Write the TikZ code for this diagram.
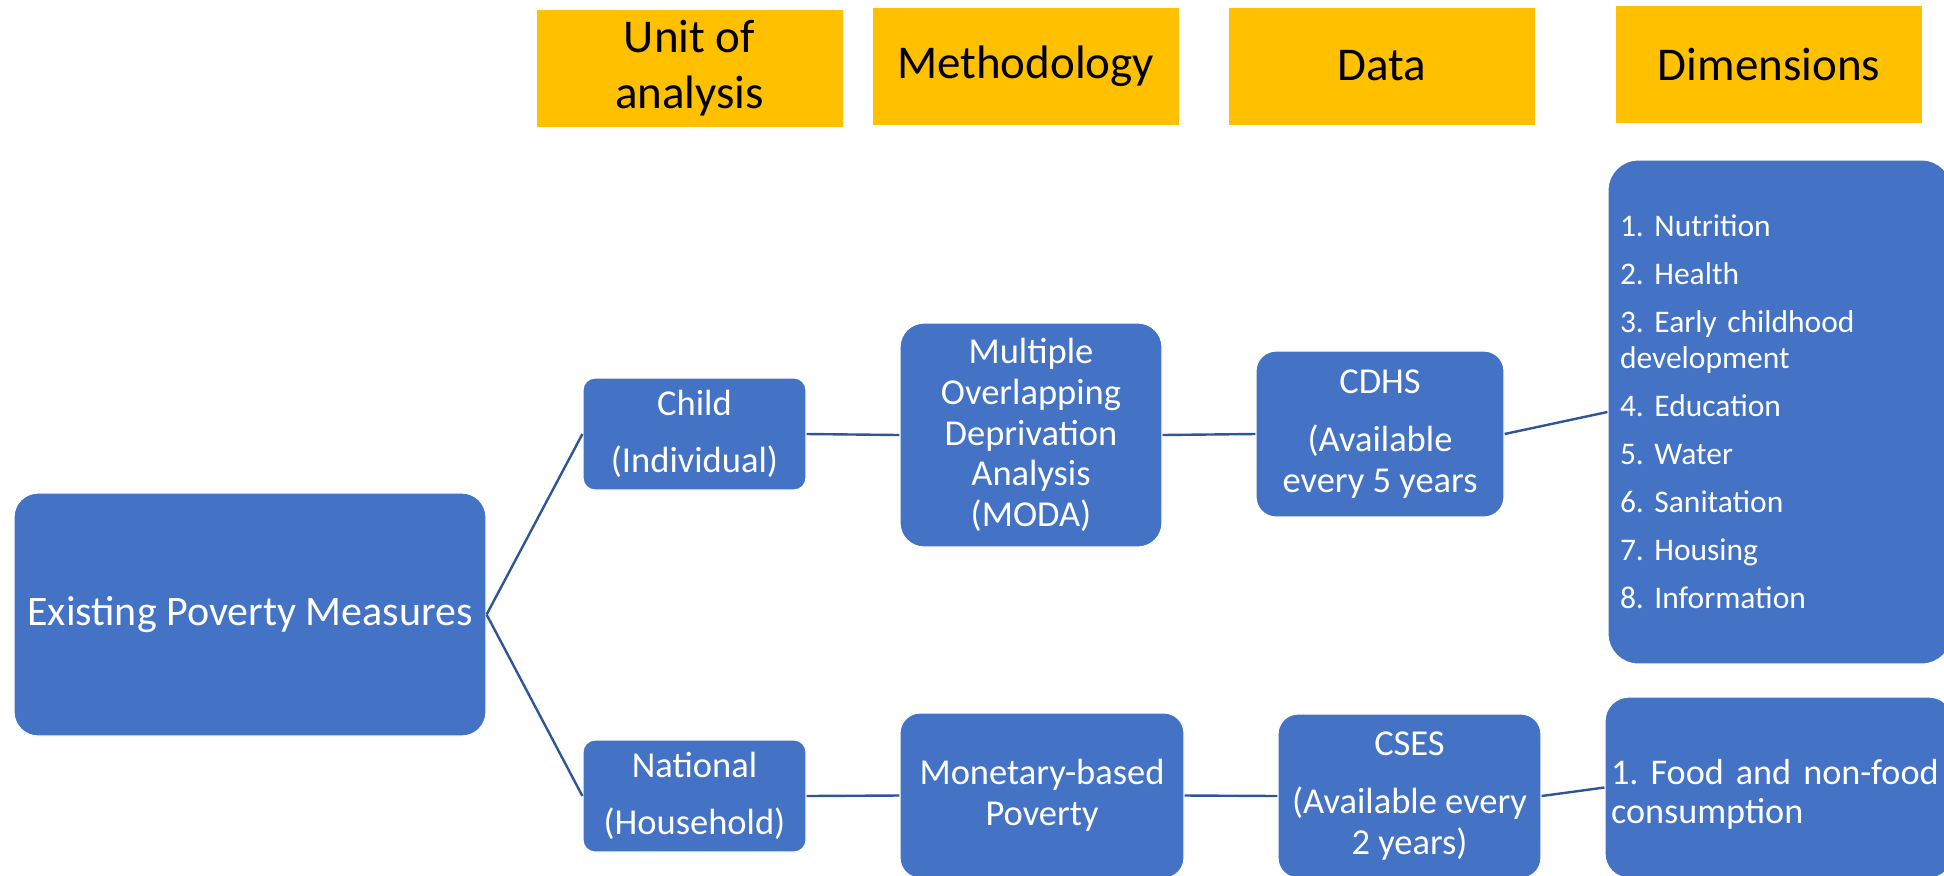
\documentclass[tikz,border=0pt]{standalone}
\usepackage{fontspec}
\setmainfont{Carlito}
\frenchspacing
\usetikzlibrary{shapes, calc}
\definecolor{Blue}{HTML}{4472C4}
\definecolor{Gold}{HTML}{FFC000}
\definecolor{Line}{HTML}{2F5597}
\def\sz#1#2{\fontsize{#1}{#2}\selectfont}

\begin{document}
\begin{tikzpicture}[
    x=0.5pt, y=-0.5pt,
    headKey/.style={rectangle, fill=Gold, text=black, align=center, minimum width=153pt, minimum height=58.5pt, inner sep=0pt, font=\sz{23.5}{28}},
    blueKey/.style={rectangle, rounded corners=10pt, draw=white, line width=0.6pt, fill=Blue, text=white, align=center, inner sep=0pt, font=\sz{18.25}{20.3}},
    listKey/.style={blueKey, align=left, inner xsep=6pt},
    link/.style={draw=Line, line width=1.2pt},
  ]
  \useasboundingbox (0,0) rectangle (1944,875);
  \clip (0,0) rectangle (1944,875);
  % headers
  \node[headKey] (unitH) at (689.5, 68) {Unit of\\analysis};
  \node[headKey] (methodH) at (1025.5, 66) {Methodology};
  \node[headKey] (dataH) at (1382, 66) {Data};
  \node[headKey] (dimH) at (1769, 64) {Dimensions};
  % measures
  \node[blueKey, minimum width=236pt, minimum height=121.5pt, rounded corners=12pt, font=\sz{21}{24}] (existingC) at (250, 614.5) {Existing Poverty Measures};
  \node[blueKey, minimum width=111.5pt, minimum height=56pt, rounded corners=6pt] (childC) at (694.5, 434) {Child\\[8.5pt](Individual)};
  \node[blueKey, minimum width=111.5pt, minimum height=56pt, rounded corners=6pt] (nationalC) at (694.5, 796) {National\\[8.5pt](Household)};
  \node[blueKey, minimum width=131pt, minimum height=112pt, rounded corners=12pt] (modaC) at (1031, 435) {Multiple\\Overlapping\\Deprivation\\Analysis\\(MODA)};
  \node[blueKey, minimum width=124pt, minimum height=83pt] (cdhsC) at (1380, 434) {CDHS\\[8.5pt](Available\\every 5 years};
  \node[blueKey, minimum width=142pt, minimum height=82.5pt] (monetaryC) at (1042, 795.5) {Monetary-based\\Poverty};
  \node[blueKey, minimum width=131.5pt, minimum height=82pt] (csesC) at (1409.5, 796) {CSES\\[8.5pt](Available every\\2 years)};
  % dimensions
  \node[listKey, minimum width=172pt, minimum height=252pt, rounded corners=15pt, text width=160pt, font=\sz{15.75}{18}] (dimChildC) at (1780, 412) {1. Nutrition\\[6pt]2. Health\\[6pt]3. Early childhood\\development\\[6pt]4. Education\\[6pt]5. Water\\[6pt]6. Sanitation\\[6pt]7. Housing\\[6pt]8. Information};
  \node[listKey, inner xsep=3pt, minimum width=174pt, minimum height=90.5pt, rounded corners=12pt, text width=168pt, font=\sz{18.1}{19.5}] (dimHouseC) at (1779, 787.5) {\rule{0pt}{19pt}1. Food and non-food\\consumption};
  % lines
  \draw[link] (existingC.east) -- (childC.west);
  \draw[link] (existingC.east) -- (nationalC.west);
  \draw[link] (childC.east) -- (modaC.west);
  \draw[link] (modaC.east) -- (cdhsC.west);
  \draw[link] (cdhsC.east) -- (dimChildC.west);
  \draw[link] (nationalC.east) -- (monetaryC.west);
  \draw[link] (monetaryC.east) -- (csesC.west);
  \draw[link] (csesC.east) -- (dimHouseC.west);
\end{tikzpicture}
\end{document}
